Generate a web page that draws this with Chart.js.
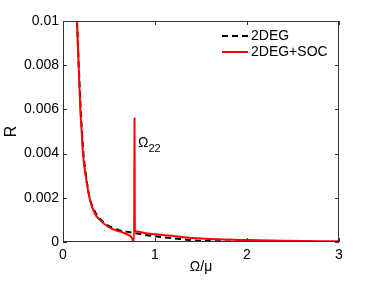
<!DOCTYPE html>
<html>
<head>
<meta charset="utf-8">
<script src="https://cdn.jsdelivr.net/npm/chart.js@4.4.1/dist/chart.umd.min.js"></script>
<style>
  html, body { margin: 0; padding: 0; background: #fff; }
</style>
</head>
<body>
<canvas id="chart" width="374" height="281"></canvas>
<script>
// Gelezen waarden uit de figuur
const omegaDeg = [0.14, 0.15, 0.17, 0.19, 0.22, 0.25, 0.29, 0.35, 0.44, 0.52, 0.60, 0.69, 0.78, 0.88, 0.98, 1.10, 1.27, 1.40, 1.60, 2.00, 2.50, 3.00];
const rDeg     = [0.0118, 0.0103, 0.0081, 0.0062, 0.0041, 0.0030, 0.0020, 0.00135, 0.00089, 0.00068, 0.00055, 0.00047, 0.00040, 0.00033, 0.00027, 0.00021, 0.00014, 0.00008, 0.00004, 0.00002, 0.00001, 0.0];

const omegaSoc = [0.14, 0.152, 0.17, 0.188, 0.20, 0.217, 0.25, 0.29, 0.344, 0.40, 0.49, 0.58, 0.656, 0.71, 0.746, 0.773, 0.777, 0.781, 0.80, 0.90, 1.00, 1.27, 1.40, 1.70, 2.00, 2.40, 3.00];
const rSoc     = [0.0120, 0.0100, 0.0080, 0.0060, 0.0052, 0.0040, 0.0029, 0.00196, 0.0013, 0.00100, 0.00069, 0.00052, 0.00042, 0.00032, 0.00020, 0.0, 0.0056, 0.00052, 0.00047, 0.00040, 0.00035, 0.00024, 0.00018, 0.00012, 0.00009, 0.00006, 0.00003];

const seriesLabels = ['2DEG', '2DEG+SOC'];
const xTicks = [0, 1, 2, 3];
const yTicks = [0, 0.002, 0.004, 0.006, 0.008, 0.01];
const yTickLabels = ['0', '0.002', '0.004', '0.006', '0.008', '0.01'];

const FONT = "'Liberation Sans', Arial, Helvetica, sans-serif";

function toPoints(xs, ys) {
    return xs.map((x, i) => ({ x: x, y: ys[i] }));
}

// Kader en naar binnen wijzende tickjes (MATLAB-stijl)
const framePlugin = {
    id: 'frame',
    afterDraw(chart) {
        const { ctx, chartArea: a, scales: { x, y } } = chart;
        ctx.save();
        ctx.strokeStyle = '#333';
        ctx.lineWidth = 1;
        ctx.strokeRect(a.left + 0.5, a.top + 0.5, a.right - a.left - 1, a.bottom - a.top - 1);
        ctx.beginPath();
        xTicks.forEach(v => {
            const px = Math.round(x.getPixelForValue(v)) + 0.5;
            ctx.moveTo(px, a.bottom); ctx.lineTo(px, a.bottom - 4);
            ctx.moveTo(px, a.top); ctx.lineTo(px, a.top + 4);
        });
        yTicks.forEach(v => {
            const py = Math.round(y.getPixelForValue(v)) + 0.5;
            ctx.moveTo(a.left, py); ctx.lineTo(a.left + 4, py);
            ctx.moveTo(a.right, py); ctx.lineTo(a.right - 4, py);
        });
        ctx.stroke();

        // Legende rechtsboven
        ctx.font = '14px ' + FONT;
        ctx.textBaseline = 'middle';
        ctx.fillStyle = '#000';
        chart.data.datasets.forEach((ds, i) => {
            const yy = a.top + 15 + i * 16;
            ctx.beginPath();
            ctx.strokeStyle = ds.borderColor;
            ctx.lineWidth = 2;
            ctx.setLineDash(ds.borderDash || []);
            ctx.moveTo(a.right - 117, yy);
            ctx.lineTo(a.right - 91, yy);
            ctx.stroke();
            ctx.setLineDash([]);
            ctx.fillText(ds.label, a.right - 88, yy);
        });

        // Label Omega_22 bij de piek
        const lx = x.getPixelForValue(0.815);
        const ly = y.getPixelForValue(0.0043);
        ctx.textBaseline = 'alphabetic';
        ctx.font = '14px ' + FONT;
        ctx.fillText('Ω', lx, ly);
        const w = ctx.measureText('Ω').width;
        ctx.font = '11px ' + FONT;
        ctx.fillText('22', lx + w, ly + 5);
        ctx.restore();
    }
};

const ctx = document.getElementById('chart').getContext('2d');
new Chart(ctx, {
    type: 'line',
    data: {
        datasets: [
            {
                label: seriesLabels[0],
                data: toPoints(omegaDeg, rDeg),
                borderColor: '#000000',
                borderWidth: 2,
                borderDash: [6, 4],
                pointRadius: 0,
                cubicInterpolationMode: 'monotone',
                fill: false,
                order: 1
            },
            {
                label: seriesLabels[1],
                data: toPoints(omegaSoc, rSoc),
                borderColor: '#ff0000',
                borderWidth: 2,
                pointRadius: 0,
                cubicInterpolationMode: 'monotone',
                fill: false,
                order: 0
            }
        ]
    },
    options: {
        responsive: false,
        animation: false,
        layout: { padding: { top: 21, right: 35, left: 0, bottom: 0 } },
        plugins: {
            legend: { display: false },
            tooltip: { enabled: false }
        },
        scales: {
            x: {
                type: 'linear',
                min: 0,
                max: 3,
                afterBuildTicks: s => { s.ticks = xTicks.map(v => ({ value: v })); },
                afterFit: s => { s.height = 39; },
                grid: { display: false, drawTicks: false },
                border: { display: false },
                ticks: { padding: 5, color: '#000', font: { family: FONT, size: 14 }, maxRotation: 0 },
                title: { display: true, text: 'Ω/μ', color: '#000', font: { family: FONT, size: 14 }, padding: { top: 0, bottom: 5 } }
            },
            y: {
                type: 'linear',
                min: 0,
                max: 0.01,
                afterBuildTicks: s => { s.ticks = yTicks.map(v => ({ value: v })); },
                afterFit: s => { s.width = 63; },
                grid: { display: false, drawTicks: false },
                border: { display: false },
                ticks: {
                    padding: 4,
                    color: '#000',
                    font: { family: FONT, size: 14 },
                    callback: (v, i) => yTickLabels[i]
                },
                title: { display: true, text: 'R', color: '#000', font: { family: FONT, size: 16 }, padding: { top: 2, bottom: 0 } }
            }
        }
    },
    plugins: [framePlugin]
});
</script>
</body>
</html>
